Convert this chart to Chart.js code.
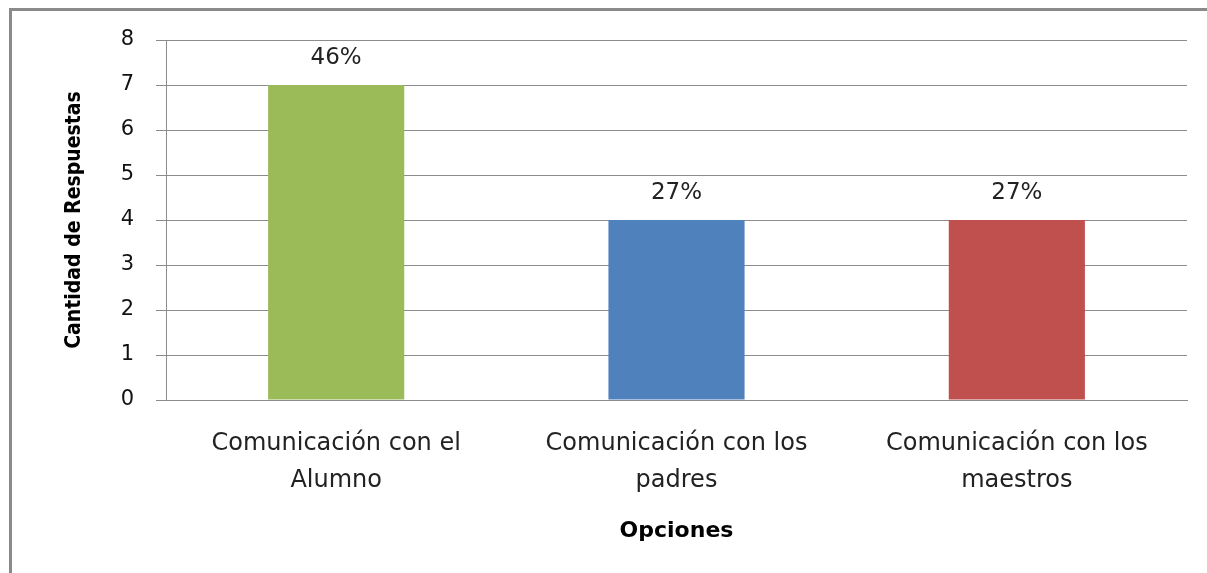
<!DOCTYPE html>
<html>
<head>
<meta charset="utf-8">
<script src="https://cdn.jsdelivr.net/npm/chart.js@4/dist/chart.umd.min.js"></script>
<style>
  body { margin: 0; background: #fff; }
  #frame { position: absolute; left: 9px; top: 8px; width: 1300px; height: 700px;
           border-left: 3px solid #8a8a8a; border-top: 3px solid #8a8a8a; }
  canvas { position: absolute; left: 0; top: 0; }
</style>
</head>
<body>
<div id="frame"></div>
<canvas id="grafica" width="1207" height="573"></canvas>
<script>
// datos del grafico
var categorias = [
  ["Comunicación con el", "Alumno"],
  ["Comunicación con los", "padres"],
  ["Comunicación con los", "maestros"]
];
var respuestas = [7, 4, 4];
var porcentajes = ["46%", "27%", "27%"];
var colores = ["#9BBB59", "#4F81BD", "#C0504D"];
var marcasY = [0, 1, 2, 3, 4, 5, 6, 7, 8];

var fuente = "'DejaVu Sans', 'Open Sans', sans-serif";

// etiquetas de porcentaje encima de cada barra
var etiquetas = {
  id: 'etiquetas',
  afterDatasetsDraw: function(chart) {
    var ctx = chart.ctx;
    var meta = chart.getDatasetMeta(0);
    ctx.save();
    ctx.font = "23px " + fuente;
    ctx.fillStyle = "#222";
    ctx.textAlign = "center";
    ctx.textBaseline = "middle";
    meta.data.forEach(function(bar, i) {
      ctx.fillText(porcentajes[i], bar.x, bar.y - 27);
    });
    ctx.restore();
  }
};

new Chart(document.getElementById("grafica").getContext('2d'), {
  type: 'bar',
  data: {
    labels: categorias,
    datasets: [{
      data: respuestas,
      backgroundColor: colores,
      categoryPercentage: 0.4,
      barPercentage: 1
    }]
  },
  options: {
    responsive: false,
    animation: false,
    layout: { padding: { top: 40, right: 20, left: 0, bottom: 0 } },
    plugins: { legend: { display: false }, tooltip: { enabled: false } },
    scales: {
      y: {
        min: 0,
        max: 8,
        afterBuildTicks: function(scale) {
          scale.ticks = marcasY.map(function(v) { return { value: v }; });
        },
        afterFit: function(scale) { scale.width = 166; },
        grid: { color: "#8c8c8c", lineWidth: 1, tickLength: 10 },
        border: { color: "#8c8c8c" },
        ticks: { color: "#111", font: { family: fuente, size: 21 }, padding: 22 },
        title: {
          display: true,
          text: "Cantidad de Respuestas",
          color: "#000",
          font: { family: "'DejaVu Sans Condensed', 'Liberation Sans', sans-serif", size: 21, weight: 'bold' },
          padding: { top: 62, bottom: 0 }
        }
      },
      x: {
        afterFit: function(scale) { scale.height = 173; },
        grid: { display: false },
        border: { color: "#8c8c8c" },
        ticks: { color: "#222", font: { family: fuente, size: 24, lineHeight: 1.54 }, padding: 17, maxRotation: 0 },
        title: {
          display: true,
          text: "Opciones",
          color: "#000",
          font: { family: fuente, size: 22, weight: 'bold' },
          padding: { top: 10, bottom: 29 }
        }
      }
    }
  },
  plugins: [etiquetas]
});
</script>
</body>
</html>
